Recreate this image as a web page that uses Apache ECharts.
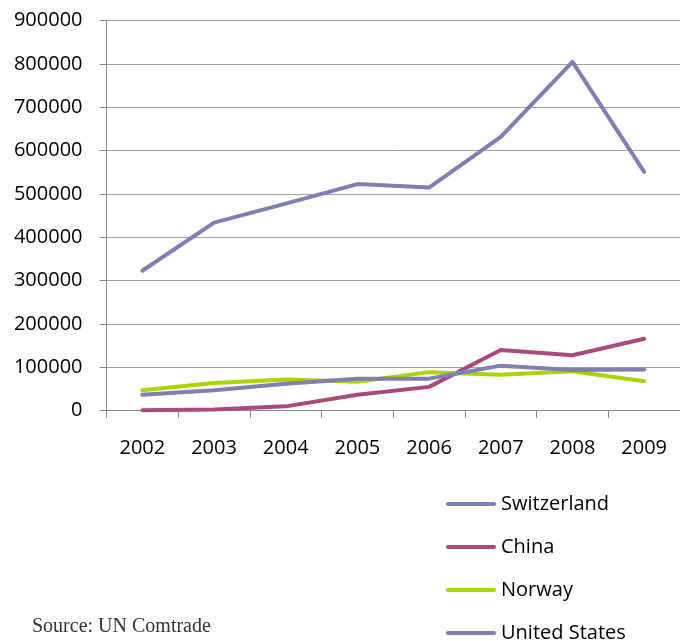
<!DOCTYPE html>
<html>
<head>
<meta charset="utf-8">
<script src="https://cdn.jsdelivr.net/npm/echarts@6/dist/echarts.min.js"></script>
<style>
html,body{margin:0;padding:0;background:#fff;}
#c{width:680px;height:641px;position:relative;}
#src{position:absolute;left:32px;top:614px;font-family:"Liberation Serif",serif;font-size:20px;color:#333;}
</style>
</head>
<body>
<div id="c"></div>
<div id="src">Source: UN Comtrade</div>
<script>
const years = ['2002','2003','2004','2005','2006','2007','2008','2009'];
const switzerland = [323000, 434000, 478000, 523000, 515000, 632000, 805000, 551000];
const china = [1000, 3000, 10000, 37000, 55000, 140000, 128000, 166000];
const norway = [47000, 64000, 72000, 67000, 89000, 83000, 91000, 68000];
const unitedStates = [37000, 47000, 62000, 74000, 74000, 104000, 94000, 95000];
const yTicks = [0, 100000, 200000, 300000, 400000, 500000, 600000, 700000, 800000, 900000];

const colors = {sw:'#7e80b1', cn:'#aa4a7c', no:'#a9d400', us:'#7e80b1'};
const font = '"Open Sans", sans-serif';

const chart = echarts.init(document.getElementById('c'), null, {renderer:'canvas'});
function mk(name, data, color){
  return {name, type:'line', data, symbol:'none', smooth:false,
    lineStyle:{width:4, color, cap:'round', join:'round'}, itemStyle:{color}};
}
chart.setOption({
  animation:false,
  backgroundColor:'#fff',
  grid:{left:106.5, top:20.7, bottom:230.3, right:-10.5, containLabel:false},
  xAxis:{type:'category', data:years, boundaryGap:true,
    axisLine:{show:true, lineStyle:{color:'#888', width:1}},
    axisTick:{show:true, length:7, lineStyle:{color:'#888'}},
    axisLabel:{color:'#000', fontFamily:font, fontSize:20, margin:28},
    splitLine:{show:false}},
  yAxis:{type:'value', min:yTicks[0], max:yTicks[yTicks.length-1], interval:yTicks[1]-yTicks[0],
    axisLine:{show:true, lineStyle:{color:'#888', width:1}},
    axisTick:{show:true, length:7, lineStyle:{color:'#888'}},
    axisLabel:{color:'#000', fontFamily:font, fontSize:20, margin:24, formatter:v => String(v)},
    splitLine:{show:true, lineStyle:{color:'#a0a0a0', width:1}}},
  legend:{orient:'vertical', left:441, top:489, height:200, itemWidth:50, itemHeight:4, itemGap:23,
    icon:'path://M2,0 L48,0 A2,2 0 0 1 48,4 L2,4 A2,2 0 0 1 2,0 Z',
    textStyle:{color:'#000', fontFamily:font, fontSize:20, lineHeight:18},
    data:['Switzerland','China','Norway','United States']},
  series:[
    mk('Switzerland', switzerland, colors.sw),
    mk('China', china, colors.cn),
    mk('Norway', norway, colors.no),
    mk('United States', unitedStates, colors.us)
  ]
});
</script>
</body>
</html>
